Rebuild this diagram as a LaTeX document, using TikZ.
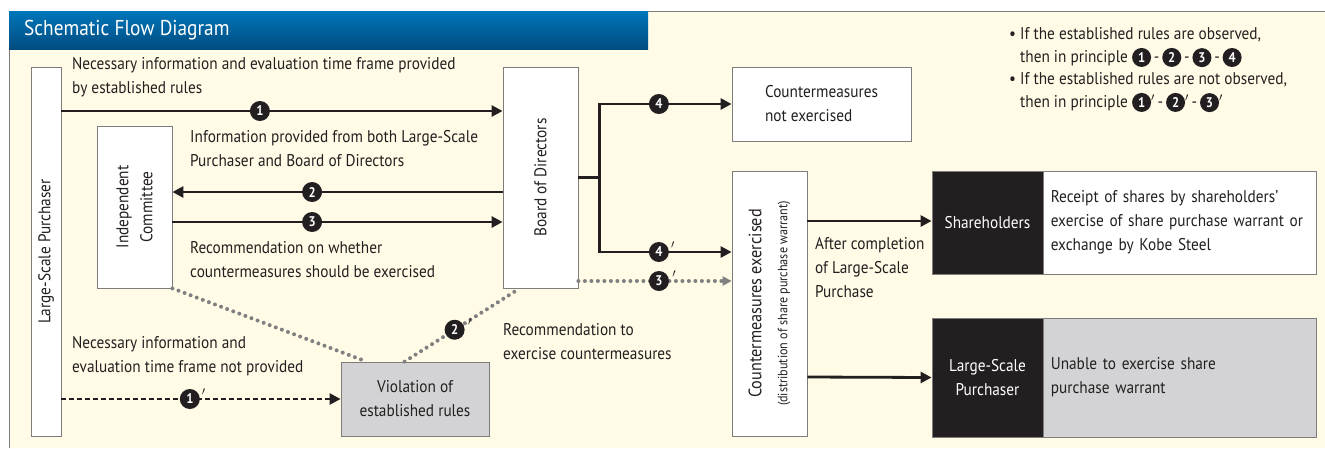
\documentclass[tikz,border=0pt]{standalone}
\usepackage{fontspec}
\setmainfont[FakeStretch=0.9]{PT Sans}
\usepackage{tikz}
\usetikzlibrary{positioning, arrows.meta, calc}

\definecolor{cream}{RGB}{255,251,230}
\definecolor{boxgray}{RGB}{211,211,213}
\definecolor{framegray}{RGB}{125,125,125}
\definecolor{inkblack}{RGB}{35,31,32}
\definecolor{titletop}{RGB}{0,118,186}
\definecolor{titlebot}{RGB}{0,76,128}
\definecolor{dotgray}{RGB}{128,128,128}

% small black disc with a white digit, for the legend
\newcommand{\keynum}[1]{\tikz[baseline=(k.base)]\node[circle, fill=inkblack, text=white, inner sep=0pt, minimum size=19pt, font=\bfseries\fontsize{14}{14}\selectfont] (k) {#1};}

\begin{document}
\begin{tikzpicture}[x=1pt, y=-1pt, text=inkblack,
    font=\fontsize{17}{24}\selectfont,
    box/.style={draw=framegray, line width=0.8pt, fill=white, inner sep=0pt},
    txt/.style={anchor=west, align=left, inner sep=0pt},
    num/.style={circle, fill=inkblack, text=white, inner sep=0pt, minimum size=20pt,
        font=\bfseries\fontsize{14}{14}\selectfont},
    prm/.style={label={[anchor=west, inner sep=0pt, xshift=-0.5pt, yshift=4pt, text=inkblack]east:{$'$}}},
    line/.style={inkblack, line width=2.8pt},
    flow/.style={line, -{Triangle[length=11pt, width=11pt]}},
    dashflow/.style={inkblack, line width=2.6pt, dash pattern=on 5pt off 3pt,
        -{Triangle[length=11pt, width=11pt]}},
    dotline/.style={dotgray, line width=4pt, line cap=round, dash pattern=on 0pt off 6.5pt},
    dotflow/.style={dotline, -{Triangle[length=9pt, width=9pt]}}]

    \useasboundingbox (0,0) rectangle (1325,448);

    % panel and title bar
    \fill[cream] (9,11) rectangle (1325,448);
    \draw[framegray, line width=1pt] (9,448) -- (9,11) -- (1325,11);
    \shade[top color=titletop, bottom color=titlebot] (9,11) rectangle (648,49);
    \node[txt, text=white, font=\fontsize{21.5}{22}\selectfont] (title) at (24,30) {Schematic Flow Diagram};

    % boxes
    \node[box, minimum width=30, minimum height=369,
        label={[rotate=90]center:Large-Scale Purchaser}] (lsp) at (46,251.5) {};
    \node[box, minimum width=75, minimum height=162,
        label={[rotate=90, align=center]center:Independent\\Committee}] (ic) at (134.5,207) {};
    \node[box, minimum width=75, minimum height=221,
        label={[rotate=90]center:Board of Directors}] (bod) at (540.5,177.5) {};
    \node[box, minimum width=179, minimum height=74, align=left] (cmn) at (821.5,104) {Countermeasures\\not exercised};
    \node[box, minimum width=75, minimum height=265,
        label={[rotate=90, align=center, font=\fontsize{18}{26}\selectfont]center:Countermeasures exercised\\{\fontsize{13.5}{14}\selectfont(distribution of share purchase warrant)}}] (cme) at (769.5,303.5) {};
    \node[box, fill=boxgray, minimum width=148, minimum height=74, align=center] (viol) at (415,399) {Violation of\\established rules};

    % outcome boxes
    \node[box, fill=inkblack, text=white, minimum width=111, minimum height=103] (shb) at (987.5,222.5) {Shareholders};
    \node[box, minimum width=273, minimum height=103, text width=259, align=left, right=0pt of shb] (shw)
        {Receipt of shares by shareholders’\\exercise of share purchase warrant or\\exchange by Kobe Steel};
    \node[box, fill=inkblack, text=white, minimum width=111, minimum height=119, align=center] (lpb) at (987.5,377.5) {Large-Scale\\Purchaser};
    \node[box, fill=boxgray, minimum width=273, minimum height=119, text width=259, align=left, right=0pt of lpb] (lpg)
        {Unable to exercise share\\purchase warrant\\[14pt]};

    % connectors
    \draw[flow] (lsp.east |- 0,111) -- node[num, pos=.45] (n1) {1} (bod.west |- 0,111);
    \draw[flow] (bod.west |- 0,192) -- node[num, pos=.577] (n2) {2} (ic.east |- 0,192);
    \draw[flow] (ic.east |- 0,222) -- node[num, pos=.423] (n3) {3} (bod.west |- 0,222);
    \coordinate (split) at ($(bod.east)+(21,0)$);
    \draw[line] (bod.east) -- (split);
    \draw[flow] (split) |- node[num, pos=.725] (n4) {4} (cmn.west);
    \draw[flow] (split) |- node[num, prm, pos=.725] (n4p) {4} (cme.west |- 0,252);
    \draw[dotflow] (bod.east |- 0,281) -- node[num, prm, pos=.526] (n3p) {3} (cme.west |- 0,281);
    \draw[dotline] (ic.south east) -- ($(viol.north west)+(26,0)$);
    \draw[dotline] ($(viol.north west)+(64,0)$) -- node[num, prm, pos=.435] (n2p) {2} ($(bod.south west)+(17,0)$);
    \draw[dashflow] (lsp.east |- 0,399) -- node[num, prm, pos=.46] (n1p) {1} (viol.west);
    \draw[flow] (cme.east |- 0,221) -- (shb.west |- 0,221);
    \draw[flow] (cme.east |- 0,377) -- (lpb.west);

    % connector texts
    \node[txt] (t1) at (72,77) {Necessary information and evaluation time frame provided\\by established rules};
    \node[txt] (t2) at (190,148.5) {Information provided from both Large-Scale\\Purchaser and Board of Directors};
    \node[txt] (t3) at (190,260) {Recommendation on whether\\countermeasures should be exercised};
    \node[txt] (t4) at (72,356.5) {Necessary information and\\evaluation time frame not provided};
    \node[txt] (t5) at (503,342) {Recommendation to\\exercise countermeasures};
    \node[txt] (t6) at (815,268) {After completion\\of Large-Scale\\Purchase};

    % legend
    \node[txt, font=\fontsize{17}{22.5}\selectfont] (legend) at (1009,70)
        {\textbullet\ If the established rules are observed,\\
         \phantom{\textbullet\ }then in principle \keynum{1}\,-\,\keynum{2}\,-\,\keynum{3}\,-\,\keynum{4}\\
         \textbullet\ If the established rules are not observed,\\
         \phantom{\textbullet\ }then in principle \keynum{1}$'$\,-\,\keynum{2}$'$\,-\,\keynum{3}$'$};
\end{tikzpicture}
\end{document}
